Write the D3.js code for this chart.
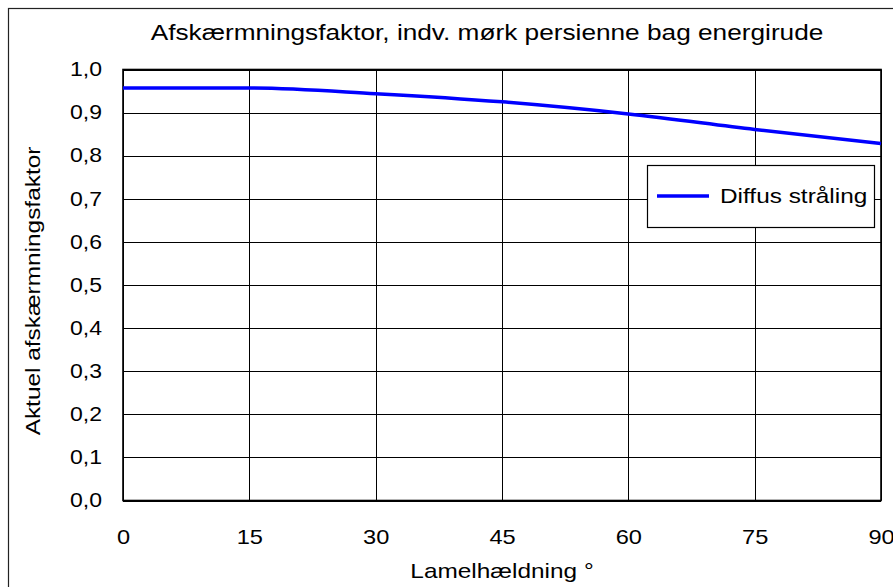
<!DOCTYPE html>
<html>
<head>
<meta charset="utf-8">
<script src="https://cdn.jsdelivr.net/npm/d3@7"></script>
<style>
  html, body { margin: 0; padding: 0; background: #fff; }
  svg { display: block; }
  text { font-family: "Liberation Sans", Arial, sans-serif; fill: #000; }
</style>
</head>
<body>
<svg id="chart" width="893" height="587"></svg>
<script>
// ---- data ----
const title = "Afskærmningsfaktor, indv. mørk persienne bag energirude";
const xTitle = "Lamelhældning °";
const yTitle = "Aktuel afskærmningsfaktor";
const seriesName = "Diffus stråling";
const slatAngles = [0, 15, 30, 45, 60, 75, 90];
const diffuseFactor = [0.957, 0.957, 0.944, 0.925, 0.897, 0.861, 0.828];
const xTicks = [0, 15, 30, 45, 60, 75, 90];
const yTicks = [0, 0.1, 0.2, 0.3, 0.4, 0.5, 0.6, 0.7, 0.8, 0.9, 1.0];

// ---- layout ----
const svg = d3.select("#chart");
const plot = { left: 123, right: 881, top: 69.5, bottom: 500.5 };
const stretch = 1.22;     // glyphs in the reference are wider than Liberation Sans
const tickStretch = 1.18;

// outer chart border
svg.append("rect")
  .attr("x", 8.5).attr("y", 8.5)
  .attr("width", 900).attr("height", 600)
  .attr("fill", "#fff").attr("stroke", "#222").attr("stroke-width", 1.2);

const x = d3.scaleLinear().domain([0, 90]).range([plot.left, plot.right]);
const y = d3.scaleLinear().domain([0, 1]).range([plot.bottom, plot.top]);

// gridlines
const grid = svg.append("g");
grid.selectAll("line.h").data(yTicks).join("line")
  .attr("x1", plot.left).attr("x2", plot.right)
  .attr("y1", d => Math.round(y(d)) + 0.5).attr("y2", d => Math.round(y(d)) + 0.5)
  .attr("stroke", "#000").attr("stroke-width", 1);
grid.selectAll("line.v").data(xTicks).join("line")
  .attr("y1", plot.top).attr("y2", plot.bottom)
  .attr("x1", d => Math.round(x(d)) + 0.5).attr("x2", d => Math.round(x(d)) + 0.5)
  .attr("stroke", "#000").attr("stroke-width", 1);

// plot frame
svg.append("rect")
  .attr("x", plot.left).attr("y", plot.top)
  .attr("width", plot.right - plot.left).attr("height", plot.bottom - plot.top)
  .attr("fill", "none").attr("stroke", "#000").attr("stroke-width", 1.6);

// axes (labels only)
const fmt = d => d3.format(".1f")(d).replace(".", ",");
const xAxis = d3.axisBottom(x).tickValues(xTicks).tickSize(0).tickPadding(0).tickFormat(d3.format("d"));
const gx = svg.append("g").attr("transform", `translate(0,${plot.bottom + 36})`).call(xAxis);
gx.select(".domain").remove();
gx.selectAll("text").attr("font-size", 20).attr("dy", "0.35em").attr("y", 0)
  .attr("transform", `scale(${tickStretch},1)`)
  .style("font-family", '"Liberation Sans", Arial, sans-serif').attr("fill", "#000");

const yAxis = d3.axisLeft(y).tickValues(yTicks).tickSize(0).tickPadding(0).tickFormat(fmt);
const gy = svg.append("g").attr("transform", `translate(${plot.left - 21},0)`).call(yAxis);
gy.select(".domain").remove();
gy.selectAll("text").attr("font-size", 19.5).attr("x", 0)
  .attr("transform", `scale(${tickStretch},1)`)
  .style("font-family", '"Liberation Sans", Arial, sans-serif').attr("fill", "#000");

// series line
const data = slatAngles.map((a, i) => ({ a, v: diffuseFactor[i] }));
const line = d3.line().x(d => x(d.a)).y(d => y(d.v)).curve(d3.curveMonotoneX);
svg.append("path").datum(data)
  .attr("d", line)
  .attr("fill", "none").attr("stroke", "#0000ff").attr("stroke-width", 3.5);

// helper: stretched text
function label(px, py, txt, size, anchor, rotate) {
  const g = svg.append("g")
    .attr("transform", `translate(${px},${py})${rotate ? " rotate(-90)" : ""} scale(${stretch},1)`);
  g.append("text").attr("text-anchor", anchor).attr("font-size", size).text(txt);
  return g;
}

// title
label(487, 40, title, 21.5, "middle", false);

// axis titles
label((plot.left + plot.right) / 2, 578, xTitle, 20, "middle", false);
label(40, (plot.top + plot.bottom) / 2 + 6, yTitle, 20, "middle", true);

// legend
const lg = svg.append("g");
lg.append("rect").attr("x", 647.5).attr("y", 165.5).attr("width", 227).attr("height", 62)
  .attr("fill", "#fff").attr("stroke", "#000").attr("stroke-width", 1.2);
lg.append("line").attr("x1", 657).attr("x2", 709).attr("y1", 196).attr("y2", 196)
  .attr("stroke", "#0000ff").attr("stroke-width", 3.5);
label(720, 203, seriesName, 20, "start", false);
</script>
</body>
</html>
